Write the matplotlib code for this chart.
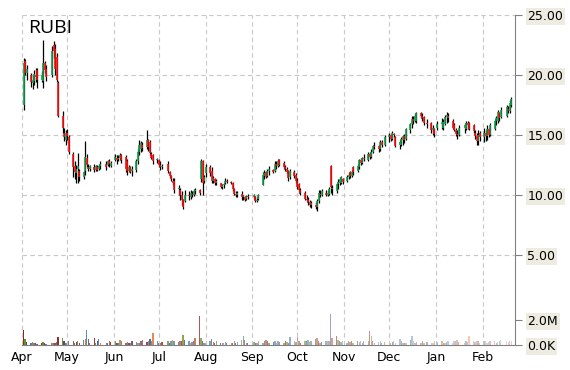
#!/usr/bin/env python
# -*- coding: utf8 -*-
# daily candles for RUBI with the volume bars underneath

import numpy as np
import pandas as pd
import matplotlib
matplotlib.use("Agg")
import matplotlib.pyplot as plt
import matplotlib.dates as mdates

ticker = "RUBI"
start = "2014-04-02"
end = "2015-02-20"
holidays = ["2014-04-18", "2014-05-26", "2014-07-04", "2014-09-01", "2014-11-27",
            "2014-12-25", "2015-01-01", "2015-01-19", "2015-02-16"]

# one row per month: Apr .. Feb
opens = [
    17.5, 21.2, 20.2, 20.0, 19.3, 19.5, 20.0, 20.4, 19.6, 19.5, 21.0, 20.5, 20.0, 22.5, 22.2, 21.5, 19.3, 16.6, 15.2, 14.6,
    15.2, 14.8, 13.4, 12.4, 11.8, 12.2, 12.0, 11.5, 12.0, 13.1, 12.3, 12.2, 12.3, 12.1, 12.3, 12.2, 12.4, 12.6, 12.5, 12.8, 12.4,
    12.9, 13.1, 13.0, 13.1, 13.3, 13.2, 12.8, 12.0, 12.3, 12.0, 12.1, 12.8, 13.6, 13.8, 14.2, 14.0, 14.6, 14.4, 13.4, 13.3, 12.9,
    12.9, 12.5, 12.3, 12.6, 11.9, 11.6, 11.2, 11.2, 10.5, 10.4, 10.0, 9.6, 9.5, 10.0, 9.8, 10.1, 10.0, 10.3, 10.4, 11.3, 12.8, 11.2,
    11.8, 12.3, 12.0, 11.2, 11.3, 11.0, 11.0, 10.7, 10.8, 11.0, 11.2, 11.1, 11.0, 10.5, 10.1, 10.0, 10.1, 9.8, 9.8, 9.7, 9.9,
    9.8, 9.9, 9.5, 9.7, 10.8, 11.6, 11.9, 11.6, 12.0, 12.1, 12.0, 12.6, 12.4, 12.9, 12.7, 12.3, 12.2, 12.0, 11.5, 11.9, 11.7,
    11.2, 10.9, 10.4, 10.2, 9.7, 9.6, 9.4, 9.2, 9.2, 9.0, 9.5, 10.1, 10.0, 10.2, 10.0, 10.1, 12.4, 10.5, 10.3, 10.9, 11.0, 11.0, 11.3,
    11.2, 11.5, 11.9, 11.6, 12.3, 12.0, 12.3, 12.9, 12.7, 13.1, 12.9, 13.4, 13.2, 13.6, 14.1, 14.1, 13.8, 14.4, 14.2,
    14.8, 15.0, 14.7, 15.1, 14.8, 14.2, 14.2, 14.6, 14.9, 14.7, 15.4, 15.9, 16.3, 16.2, 16.2, 16.8, 16.6, 16.5, 16.0, 16.0, 15.4, 15.5,
    15.6, 15.9, 15.6, 15.9, 16.5, 16.6, 16.2, 15.8, 15.4, 15.1, 15.0, 15.6, 15.5, 16.0, 16.0, 15.8, 15.2, 14.9, 14.5, 15.2,
    14.8, 15.2, 14.9, 15.5, 15.0, 15.5, 16.2, 16.2, 16.8, 16.5, 16.6, 17.2, 17.0, 17.5,
]
highs = [
    21.4, 21.3, 20.8, 20.2, 20.0, 20.4, 20.6, 20.6, 20.3, 22.9, 21.2, 20.8, 22.4, 22.8, 22.6, 21.8, 19.5, 17.0, 15.6, 15.4,
    15.5, 15.0, 13.6, 12.8, 12.5, 13.5, 12.2, 12.0, 14.5, 13.4, 12.6, 12.5, 12.6, 12.5, 12.5, 12.6, 12.8, 12.8, 12.9, 13.0, 12.8,
    13.4, 13.3, 13.3, 13.5, 13.4, 13.3, 13.0, 12.5, 12.4, 12.4, 13.0, 13.8, 14.6, 14.5, 14.4, 15.4, 14.7, 14.6, 13.6, 13.4, 13.1,
    13.0, 12.8, 12.6, 12.8, 12.0, 11.7, 11.4, 11.4, 10.8, 10.6, 10.3, 9.7, 10.4, 10.3, 10.4, 10.3, 10.5, 10.6, 10.5, 13.0, 12.9, 11.7,
    12.6, 12.5, 12.3, 11.6, 11.4, 11.3, 11.0, 10.9, 11.0, 11.4, 11.3, 11.2, 11.1, 10.6, 10.3, 10.3, 10.3, 10.0, 9.9, 10.0, 10.1,
    10.1, 9.9, 9.8, 10.1, 11.9, 12.1, 12.0, 12.2, 12.4, 12.2, 12.8, 12.8, 13.0, 13.0, 12.8, 12.5, 12.3, 12.1, 12.2, 12.1, 11.8,
    11.4, 11.0, 10.6, 10.3, 10.0, 9.8, 9.6, 9.5, 9.4, 9.7, 10.4, 10.4, 10.5, 10.4, 10.4, 10.7, 12.5, 10.8, 11.0, 11.3, 11.5, 11.6, 11.4,
    11.7, 11.9, 12.0, 12.1, 12.4, 12.6, 13.0, 13.1, 13.2, 13.4, 13.6, 13.6, 13.8, 14.2, 14.4, 14.2, 14.6, 14.6, 15.0,
    15.2, 15.1, 15.3, 15.2, 14.9, 14.6, 14.8, 15.0, 15.1, 15.6, 16.0, 16.6, 16.6, 16.8, 16.9, 16.9, 16.8, 16.6, 16.3, 16.1, 15.8, 15.6,
    16.2, 16.4, 16.3, 16.7, 16.9, 16.8, 16.3, 16.0, 15.6, 15.4, 15.8, 16.0, 16.2, 16.2, 16.1, 15.9, 15.4, 15.2, 15.4, 15.3,
    15.6, 15.4, 15.8, 15.6, 16.0, 16.3, 16.6, 17.1, 16.9, 17.3, 17.5, 17.4, 17.9, 18.2,
]
lows = [
    17.1, 20.0, 19.6, 19.0, 18.8, 19.2, 19.4, 18.9, 19.4, 18.9, 20.2, 19.5, 19.8, 21.4, 20.0, 19.4, 16.5, 15.2, 14.5, 14.2,
    14.6, 13.4, 11.5, 11.3, 11.0, 11.0, 11.2, 11.3, 11.7, 12.3, 12.0, 12.0, 11.9, 12.0, 12.0, 12.1, 12.2, 12.1, 12.4, 12.3, 12.3,
    12.8, 12.6, 12.8, 12.9, 12.7, 11.9, 11.7, 11.9, 11.8, 11.6, 11.9, 12.6, 13.3, 13.6, 13.7, 13.8, 13.7, 13.3, 13.0, 12.6, 12.7,
    12.3, 12.1, 12.2, 11.8, 11.4, 11.2, 10.8, 10.2, 10.0, 9.6, 9.2, 8.8, 9.4, 9.6, 9.7, 9.8, 9.9, 10.1, 10.0, 11.1, 10.0, 11.0,
    11.5, 11.6, 11.0, 11.0, 10.8, 10.8, 10.6, 10.5, 10.6, 10.9, 11.0, 10.9, 10.3, 10.0, 9.8, 9.8, 9.6, 9.6, 9.5, 9.6, 9.7,
    9.7, 9.4, 9.4, 9.6, 10.8, 11.3, 11.4, 11.5, 11.7, 11.8, 11.9, 12.2, 12.3, 12.4, 12.2, 12.0, 11.8, 11.2, 11.3, 11.4, 11.0,
    10.5, 10.2, 10.0, 9.6, 9.4, 9.2, 9.0, 8.9, 8.8, 8.7, 9.3, 9.8, 9.9, 9.9, 9.9, 10.0, 10.2, 10.0, 10.2, 10.5, 10.8, 10.9, 10.9,
    11.1, 11.3, 11.4, 11.5, 11.7, 11.9, 12.2, 12.5, 12.6, 12.8, 12.8, 13.0, 13.1, 13.5, 13.8, 13.6, 13.7, 14.0, 14.1,
    14.4, 14.5, 14.6, 14.8, 14.0, 13.8, 14.1, 14.2, 14.3, 14.6, 15.2, 15.6, 15.9, 16.1, 16.0, 16.4, 16.2, 15.8, 15.6, 15.2, 15.0, 14.8,
    15.4, 15.5, 15.4, 15.8, 16.0, 16.1, 15.5, 15.3, 14.9, 14.7, 14.9, 15.2, 15.4, 15.5, 15.4, 15.2, 14.7, 14.2, 14.2, 14.5,
    14.4, 14.5, 14.6, 14.8, 14.9, 15.4, 15.8, 16.0, 16.2, 16.4, 16.5, 16.8, 16.8, 17.3,
]
closes = [
    21.0, 20.2, 20.5, 19.4, 19.6, 20.1, 19.8, 19.6, 20.0, 21.0, 20.4, 19.8, 22.0, 22.0, 20.5, 19.6, 16.6, 15.6, 14.8, 15.2,
    14.9, 13.6, 12.3, 11.9, 12.2, 12.4, 11.5, 11.9, 13.2, 12.5, 12.2, 12.4, 12.1, 12.4, 12.1, 12.4, 12.6, 12.3, 12.8, 12.6, 12.7,
    13.2, 12.9, 13.1, 13.3, 12.9, 12.2, 12.0, 12.3, 11.9, 12.2, 12.8, 13.6, 14.2, 14.3, 13.9, 14.6, 14.0, 13.5, 13.1, 12.8, 13.0,
    12.5, 12.3, 12.4, 12.0, 11.6, 11.3, 11.0, 10.4, 10.6, 10.0, 9.6, 9.0, 10.0, 9.9, 10.2, 10.0, 10.3, 10.4, 10.2, 12.8, 11.0, 11.5,
    12.3, 11.8, 11.2, 11.4, 11.0, 11.2, 10.7, 10.8, 10.9, 11.2, 11.1, 11.0, 10.5, 10.1, 10.0, 10.2, 9.8, 9.9, 9.6, 9.9, 9.8,
    10.0, 9.5, 9.6, 10.0, 11.7, 11.8, 11.5, 12.0, 12.2, 11.9, 12.6, 12.4, 12.8, 12.5, 12.3, 12.2, 11.9, 11.4, 12.0, 11.6, 11.2,
    10.7, 10.4, 10.2, 9.7, 9.6, 9.4, 9.2, 9.3, 9.0, 9.5, 10.2, 10.0, 10.3, 10.0, 10.2, 10.5, 10.7, 10.6, 10.9, 11.1, 11.3, 11.5, 11.1,
    11.5, 11.7, 11.6, 11.9, 11.9, 12.4, 12.9, 12.7, 13.1, 13.0, 13.4, 13.2, 13.6, 14.1, 14.0, 13.8, 14.4, 14.2, 14.8,
    15.0, 14.7, 15.2, 15.0, 14.1, 14.4, 14.7, 14.9, 14.6, 15.5, 15.9, 16.3, 16.2, 16.6, 16.8, 16.6, 16.4, 16.0, 15.9, 15.4, 15.6, 15.1,
    15.9, 16.1, 16.1, 16.5, 16.7, 16.4, 15.6, 15.4, 15.1, 15.0, 15.6, 15.8, 16.0, 15.8, 15.5, 15.3, 14.9, 14.5, 15.0, 14.8,
    15.2, 14.9, 15.5, 15.0, 15.8, 16.2, 16.4, 16.9, 16.4, 17.1, 17.3, 17.0, 17.7, 18.0,
]
# volume in millions of shares
volume = [
    1.2, 0.5, 0.25, 0.2, 0.25, 0.15, 0.2, 0.1, 0.2, 0.25, 0.15, 0.1, 0.15, 0.2, 0.15, 0.25, 0.65, 0.55, 0.3, 0.2,
    0.2, 0.3, 0.3, 0.2, 0.25, 0.3, 0.15, 0.4, 0.45, 1.2, 0.5, 0.2, 0.6, 0.2, 0.3, 0.45, 0.15, 0.2, 0.15, 0.3, 0.25,
    0.3, 0.2, 0.15, 0.4, 0.3, 0.2, 0.25, 0.15, 0.2, 0.3, 0.25, 0.2, 0.15, 0.3, 0.4, 0.25, 0.35, 0.45, 0.3, 1.0, 0.3,
    0.2, 0.15, 0.25, 0.3, 0.2, 0.35, 0.4, 0.3, 0.25, 0.35, 0.3, 0.8, 0.4, 0.3, 0.2, 0.25, 0.35, 0.6, 2.3, 0.55, 0.3, 0.2,
    0.2, 0.3, 0.5, 0.25, 0.2, 0.3, 0.2, 0.15, 0.2, 0.25, 0.15, 0.2, 0.2, 0.3, 0.15, 0.25, 0.4, 0.75, 0.4, 0.2, 0.15,
    0.25, 0.15, 0.2, 0.3, 0.2, 0.35, 0.4, 0.3, 0.2, 0.25, 0.35, 0.2, 0.3, 0.25, 0.2, 0.3, 0.25, 0.2, 0.65, 0.3, 0.25,
    1.0, 0.3, 0.2, 0.3, 0.35, 0.4, 0.25, 0.3, 0.45, 0.55, 0.3, 0.2, 0.25, 0.3, 0.35, 0.3, 2.5, 0.6, 0.7, 0.4, 0.3, 0.25, 0.35,
    0.2, 0.3, 0.25, 0.35, 0.2, 0.3, 0.25, 0.3, 0.2, 0.3, 0.35, 1.1, 0.75, 0.3, 0.2, 0.25, 0.3, 0.2, 0.25,
    0.2, 0.15, 0.25, 0.3, 0.2, 0.45, 0.3, 0.2, 0.15, 0.2, 0.4, 0.75, 0.3, 0.2, 0.25, 0.15, 0.3, 0.2, 0.25, 0.15, 0.2, 0.3,
    0.25, 0.3, 0.2, 0.15, 0.25, 0.3, 0.2, 0.35, 0.3, 0.4, 0.25, 0.2, 0.3, 0.25, 0.7, 0.3, 0.25, 0.35, 0.3, 0.2,
    0.35, 0.3, 0.2, 0.25, 0.3, 0.35, 0.2, 0.25, 0.3, 0.4, 0.3, 0.25, 0.3, 0.35,
]
price_ticks = [5, 10, 15, 20, 25]
vol_ticks = [0, 2.0e6]
vol_labels = ["0.0K", "2.0M"]

vol_palette = ["#8b2323", "#6b8e23", "#483d8b", "#4682b4", "#e0702a", "#3a8f8f", "#6a4c93", "#b5562b"]
GRID = "#c8c8c8"
AXIS = "#808080"
LABEL_BG = "#eeebe0"


def plot_candles(ax, df):
    up = df["close"] >= df["open"]
    ax.vlines(df.index, df["low"], df["high"], color="black", lw=0.9, zorder=3)
    ax.vlines(df.index[up], df["open"][up], df["close"][up], color="#12a24e", lw=1.2, zorder=4)
    ax.vlines(df.index[~up], df["open"][~up], df["close"][~up], color="#ff1010", lw=1.2, zorder=4)


def plot_volume(vax, df):
    n = len(df)
    colors = [vol_palette[i % len(vol_palette)] for i in range(n)]
    alphas = np.linspace(1.0, 0.3, n)  # bars fade out towards the right
    for i in range(n):
        vax.bar(df.index[i], df["volume"].iloc[i] * 1e6, width=0.9, color=colors[i],
                alpha=alphas[i], linewidth=0, zorder=2)


def main():
    days = pd.bdate_range(start, end, freq="C", holidays=holidays)
    df = pd.DataFrame({"open": opens, "high": highs, "low": lows, "close": closes,
                       "volume": volume}, index=days)

    fig = plt.figure(figsize=(5.7, 3.7), dpi=100)
    ax = fig.add_axes([22 / 570, 25 / 370, 493 / 570, 330 / 370])
    vax = ax.twinx()

    plot_candles(ax, df)
    plot_volume(vax, df)

    ax.set_xlim(pd.Timestamp("2014-04-01"), pd.Timestamp("2015-02-22 12:00"))
    ax.set_ylim(-2.5, 25)
    vax.set_ylim(0, 26.4e6)

    for a in (ax, vax):
        for side in ("left", "top", "right"):
            a.spines[side].set_visible(False)
    ax.spines["bottom"].set_color(AXIS)
    vax.spines["bottom"].set_visible(False)
    vax.spines["right"].set_visible(True)
    vax.spines["right"].set_color(AXIS)

    # price labels on the right
    ax.yaxis.tick_right()
    ax.set_yticks(price_ticks)
    ax.set_yticklabels(["%.2f" % p for p in price_ticks])
    ax.tick_params(axis="y", direction="out", length=5, color=AXIS, pad=4, labelsize=9)
    for lbl in ax.get_yticklabels():
        lbl.set_bbox(dict(facecolor=LABEL_BG, edgecolor="none", pad=1.2))

    vax.set_yticks(vol_ticks)
    vax.set_yticklabels(vol_labels)
    vax.tick_params(axis="y", direction="out", length=5, color=AXIS, pad=4, labelsize=9)
    for lbl in vax.get_yticklabels():
        lbl.set_bbox(dict(facecolor=LABEL_BG, edgecolor="none", pad=1.2))

    ax.xaxis.set_major_locator(mdates.MonthLocator())
    ax.xaxis.set_major_formatter(mdates.DateFormatter("%b"))
    ax.tick_params(axis="x", length=0, pad=4, labelsize=9)

    ax.grid(True, linestyle=(0, (4, 3)), color=GRID, lw=0.8, zorder=0)
    ax.set_axisbelow(True)
    vax.set_zorder(ax.get_zorder() - 1)
    ax.patch.set_visible(False)

    fig.text(28 / 570, 1 - 19 / 370, ticker, fontsize=14, va="top", ha="left",
             family=["Open Sans", "DejaVu Sans"])

    fig.savefig("out.png", dpi=100)


if __name__ == "__main__":
    main()
